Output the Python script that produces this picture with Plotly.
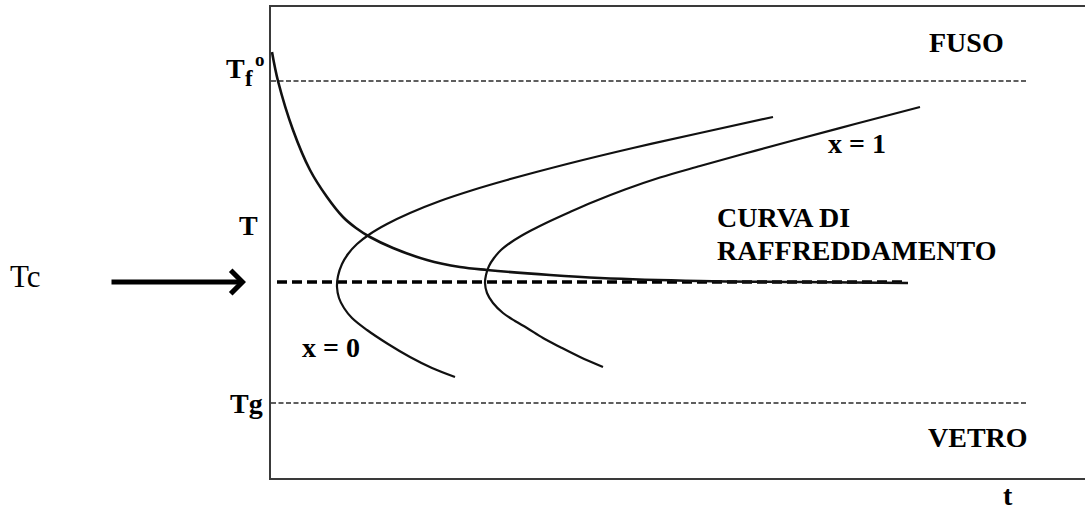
import plotly.graph_objects as go

# Axis extents in arbitrary units (time t, temperature T)
T_MAX_T = 814
T_MAX_TEMP = 471

# Temperature levels
T_FUSO = 397      # melting temperature Tf°
T_CRIT = 196      # Tc
T_GLASS = 75      # Tg

# Cooling curve T(t)
cool_t = [1, 7, 22, 39, 56, 72, 85, 99, 122, 156, 189, 216, 279, 329, 429, 529, 637]
cool_T = [426, 397, 348, 308, 281, 261, 250, 241, 230, 218, 211, 208, 203, 200, 197, 196, 195]

# TTT curve, x = 0 (onset of crystallisation)
x0_t = [502, 429, 362, 296, 236, 202, 169, 139, 116, 99, 86, 77, 71, 67, 66,
        68, 73, 81, 96, 117, 139, 161, 184]
x0_T = [361, 345, 330, 314, 298, 288, 277, 265, 254, 244, 234, 224, 214, 202, 191,
        180, 170, 160, 148, 134, 121, 110, 101]

# TTT curve, x = 1 (complete crystallisation)
x1_t = [649, 584, 522, 474, 429, 389, 354, 322, 299, 275, 262, 250, 239, 230, 223, 218, 215, 214,
        216, 222, 232, 244, 256, 272, 289, 309, 332]
x1_T = [371, 354, 337.5, 324.5, 312, 300.5, 288.5, 276, 266, 255, 248.5, 242, 235, 228, 220, 212, 203, 195,
        185, 175, 165, 157, 150, 140, 131, 121, 111]

# Extent of the reference temperature lines
level_t = [0, 757]
crit_t = [6, 635]

SERIF = "Liberation Serif"

fig = go.Figure()

# Tf° and Tg thin dashed levels
for lvl in (T_FUSO, T_GLASS):
    fig.add_trace(go.Scatter(x=level_t, y=[lvl, lvl], mode="lines",
                             line=dict(color="#2a2a2a", width=1.3, dash="5px,2.5px"),
                             hoverinfo="skip"))

# Tc thick dashed level
fig.add_trace(go.Scatter(x=crit_t, y=[T_CRIT, T_CRIT], mode="lines",
                         line=dict(color="black", width=3.5, dash="10px,5px"),
                         hoverinfo="skip"))

# TTT curves
for tt, TT in ((x0_t, x0_T), (x1_t, x1_T)):
    fig.add_trace(go.Scatter(x=tt, y=TT, mode="lines",
                             line=dict(color="#111111", width=2.2, shape="spline", smoothing=1.0),
                             hoverinfo="skip"))

# Cooling curve
fig.add_trace(go.Scatter(x=cool_t, y=cool_T, mode="lines",
                         line=dict(color="#111111", width=2.6, shape="spline", smoothing=1.0),
                         hoverinfo="skip"))


def label(text, x, y, size=28, xanchor="center", bold=True, family=SERIF):
    """Place a text label at (t, T) in axis units; paper refs let it sit outside the frame."""
    fig.add_annotation(x=x / T_MAX_T, y=y / T_MAX_TEMP, xref="paper", yref="paper",
                       text=f"<b>{text}</b>" if bold else text,
                       showarrow=False, xanchor=xanchor, yanchor="middle",
                       font=dict(family=family, size=size, color="black"))


label("FUSO", 695, 435)
label("VETRO", 707, 41)
label("t", 737, -17)
label("CURVA DI", 444, 260.5, xanchor="left")
label("RAFFREDDAMENTO", 444, 228, xanchor="left")
label("x = 1", 586, 335)
label("x = 0", 60, 131)
label("T", -11, 253, xanchor="right")
label("Tg", -6, 75, xanchor="right")
# Tf° : T with stacked subscript f and superscript o
label("T", -36, 409)
label("f", -22, 399, size=23)
label("o", -11.5, 418, size=19)
label("Tc", -246, 202, size=31, bold=False)

# Arrow pointing at Tc
fig.add_annotation(x=-25 / T_MAX_T, y=T_CRIT / T_MAX_TEMP, xref="paper", yref="paper",
                   ax=-136, ay=0, axref="pixel", ayref="pixel", text="", showarrow=True,
                   arrowhead=4, arrowsize=0.9, arrowwidth=5, arrowcolor="black")

fig.update_layout(
    width=1085, height=512,
    margin=dict(l=271, r=0, t=7, b=34),
    paper_bgcolor="white", plot_bgcolor="white",
    showlegend=False,
    xaxis=dict(range=[0, T_MAX_T], showgrid=False, zeroline=False, showticklabels=False,
               ticks="", showline=True, linecolor="#3a3a3a", linewidth=2, mirror=True),
    yaxis=dict(range=[0, T_MAX_TEMP], showgrid=False, zeroline=False, showticklabels=False,
               ticks="", showline=True, linecolor="#3a3a3a", linewidth=2),
)

fig.write_html("out.html")
